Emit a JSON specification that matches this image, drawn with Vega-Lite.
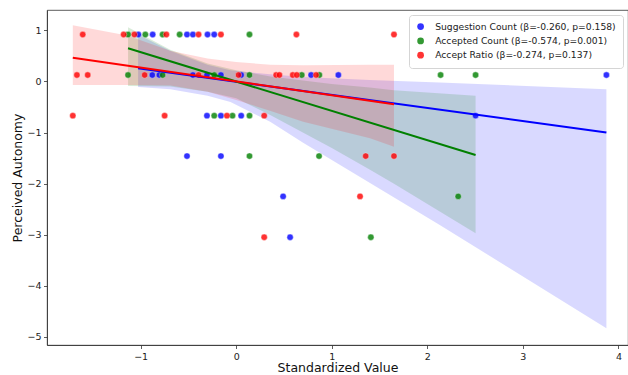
{
  "$schema": "https://vega.github.io/schema/vega-lite/v6.json",
  "width": 581,
  "height": 335,
  "autosize": "none",
  "padding": {"left": 47, "top": 10, "right": 0, "bottom": 30},
  "background": "white",
  "config": {
    "font": "DejaVu Sans",
    "view": {"stroke": "#333", "strokeWidth": 0.8},
    "axis": {"grid": false, "domainColor": "#333", "tickColor": "#333", "labelColor": "#222", "titleColor": "#111", "labelFontSize": 9.5, "titleFontSize": 12.5, "titleFontWeight": "normal", "tickSize": 3.5, "labelPadding": 2.5, "domainWidth": 0.8, "tickWidth": 0.8, "format": "d"},
    "legend": {"title": null, "orient": "top-right", "offset": 5, "labelFontSize": 9.2, "labelColor": "#222", "symbolSize": 45, "symbolType": "circle", "symbolOpacity": 0.8, "symbolStrokeWidth": 0, "labelOffset": 10, "rowPadding": 4.3, "padding": 7, "fillColor": "white", "strokeColor": "#d5d5d5", "cornerRadius": 3, "labelLimit": 400}
  },
  "datasets": {
    "pts": [
      {"s": "Suggestion Count (β=-0.260, p=0.158)", "x": -1.024, "y": 0.92},
      {"s": "Suggestion Count (β=-0.260, p=0.158)", "x": -0.874, "y": 0.92},
      {"s": "Suggestion Count (β=-0.260, p=0.158)", "x": -0.515, "y": 0.92},
      {"s": "Suggestion Count (β=-0.260, p=0.158)", "x": -0.453, "y": 0.92},
      {"s": "Suggestion Count (β=-0.260, p=0.158)", "x": -0.3, "y": 0.92},
      {"s": "Suggestion Count (β=-0.260, p=0.158)", "x": -0.23, "y": 0.92},
      {"s": "Suggestion Count (β=-0.260, p=0.158)", "x": -0.878, "y": 0.127},
      {"s": "Suggestion Count (β=-0.260, p=0.158)", "x": -0.805, "y": 0.127},
      {"s": "Suggestion Count (β=-0.260, p=0.158)", "x": -0.453, "y": 0.127},
      {"s": "Suggestion Count (β=-0.260, p=0.158)", "x": -0.306, "y": 0.127},
      {"s": "Suggestion Count (β=-0.260, p=0.158)", "x": -0.16, "y": 0.127},
      {"s": "Suggestion Count (β=-0.260, p=0.158)", "x": 0.052, "y": 0.127},
      {"s": "Suggestion Count (β=-0.260, p=0.158)", "x": 0.784, "y": 0.127},
      {"s": "Suggestion Count (β=-0.260, p=0.158)", "x": 1.069, "y": 0.127},
      {"s": "Suggestion Count (β=-0.260, p=0.158)", "x": 3.874, "y": 0.127},
      {"s": "Suggestion Count (β=-0.260, p=0.158)", "x": -0.306, "y": -0.67},
      {"s": "Suggestion Count (β=-0.260, p=0.158)", "x": -0.16, "y": -0.67},
      {"s": "Suggestion Count (β=-0.260, p=0.158)", "x": 0.052, "y": -0.67},
      {"s": "Suggestion Count (β=-0.260, p=0.158)", "x": 2.505, "y": -0.67},
      {"s": "Suggestion Count (β=-0.260, p=0.158)", "x": -0.515, "y": -1.46},
      {"s": "Suggestion Count (β=-0.260, p=0.158)", "x": -0.16, "y": -1.46},
      {"s": "Suggestion Count (β=-0.260, p=0.158)", "x": 0.491, "y": -2.25},
      {"s": "Suggestion Count (β=-0.260, p=0.158)", "x": 0.564, "y": -3.05},
      {"s": "Accepted Count (β=-0.574, p=0.001)", "x": -1.132, "y": 0.92},
      {"s": "Accepted Count (β=-0.574, p=0.001)", "x": -0.951, "y": 0.92},
      {"s": "Accepted Count (β=-0.574, p=0.001)", "x": -0.77, "y": 0.92},
      {"s": "Accepted Count (β=-0.574, p=0.001)", "x": -0.592, "y": 0.92},
      {"s": "Accepted Count (β=-0.574, p=0.001)", "x": 0.139, "y": 0.92},
      {"s": "Accepted Count (β=-0.574, p=0.001)", "x": -1.132, "y": 0.127},
      {"s": "Accepted Count (β=-0.574, p=0.001)", "x": -0.77, "y": 0.127},
      {"s": "Accepted Count (β=-0.574, p=0.001)", "x": -0.23, "y": 0.127},
      {"s": "Accepted Count (β=-0.574, p=0.001)", "x": 0.139, "y": 0.127},
      {"s": "Accepted Count (β=-0.574, p=0.001)", "x": 0.686, "y": 0.127},
      {"s": "Accepted Count (β=-0.574, p=0.001)", "x": 0.87, "y": 0.127},
      {"s": "Accepted Count (β=-0.574, p=0.001)", "x": 2.139, "y": 0.127},
      {"s": "Accepted Count (β=-0.574, p=0.001)", "x": 2.505, "y": 0.127},
      {"s": "Accepted Count (β=-0.574, p=0.001)", "x": -0.23, "y": -0.67},
      {"s": "Accepted Count (β=-0.574, p=0.001)", "x": -0.039, "y": -0.67},
      {"s": "Accepted Count (β=-0.574, p=0.001)", "x": 0.139, "y": -0.67},
      {"s": "Accepted Count (β=-0.574, p=0.001)", "x": 0.139, "y": -1.46},
      {"s": "Accepted Count (β=-0.574, p=0.001)", "x": 0.867, "y": -1.46},
      {"s": "Accepted Count (β=-0.574, p=0.001)", "x": 2.323, "y": -2.25},
      {"s": "Accepted Count (β=-0.574, p=0.001)", "x": 1.409, "y": -3.05},
      {"s": "Accept Ratio (β=-0.274, p=0.137)", "x": -1.606, "y": 0.92},
      {"s": "Accept Ratio (β=-0.274, p=0.137)", "x": -1.178, "y": 0.92},
      {"s": "Accept Ratio (β=-0.274, p=0.137)", "x": -1.066, "y": 0.92},
      {"s": "Accept Ratio (β=-0.274, p=0.137)", "x": -0.731, "y": 0.92},
      {"s": "Accept Ratio (β=-0.274, p=0.137)", "x": -0.394, "y": 0.92},
      {"s": "Accept Ratio (β=-0.274, p=0.137)", "x": -0.16, "y": 0.92},
      {"s": "Accept Ratio (β=-0.274, p=0.137)", "x": 0.63, "y": 0.92},
      {"s": "Accept Ratio (β=-0.274, p=0.137)", "x": 1.651, "y": 0.92},
      {"s": "Accept Ratio (β=-0.274, p=0.137)", "x": -1.667, "y": 0.127},
      {"s": "Accept Ratio (β=-0.274, p=0.137)", "x": -1.554, "y": 0.127},
      {"s": "Accept Ratio (β=-0.274, p=0.137)", "x": -0.958, "y": 0.127},
      {"s": "Accept Ratio (β=-0.274, p=0.137)", "x": -0.394, "y": 0.127},
      {"s": "Accept Ratio (β=-0.274, p=0.137)", "x": 0.024, "y": 0.127},
      {"s": "Accept Ratio (β=-0.274, p=0.137)", "x": 0.418, "y": 0.127},
      {"s": "Accept Ratio (β=-0.274, p=0.137)", "x": 0.452, "y": 0.127},
      {"s": "Accept Ratio (β=-0.274, p=0.137)", "x": 0.592, "y": 0.127},
      {"s": "Accept Ratio (β=-0.274, p=0.137)", "x": 0.634, "y": 0.127},
      {"s": "Accept Ratio (β=-0.274, p=0.137)", "x": 0.836, "y": 0.127},
      {"s": "Accept Ratio (β=-0.274, p=0.137)", "x": -1.71, "y": -0.67},
      {"s": "Accept Ratio (β=-0.274, p=0.137)", "x": -0.749, "y": -0.67},
      {"s": "Accept Ratio (β=-0.274, p=0.137)", "x": -0.097, "y": -0.67},
      {"s": "Accept Ratio (β=-0.274, p=0.137)", "x": 0.293, "y": -0.67},
      {"s": "Accept Ratio (β=-0.274, p=0.137)", "x": 1.355, "y": -1.46},
      {"s": "Accept Ratio (β=-0.274, p=0.137)", "x": 1.651, "y": -1.46},
      {"s": "Accept Ratio (β=-0.274, p=0.137)", "x": 1.296, "y": -2.25},
      {"s": "Accept Ratio (β=-0.274, p=0.137)", "x": 0.293, "y": -3.05}
    ],
    "fit": [
      {"s": "Suggestion Count (β=-0.260, p=0.158)", "k": 1, "x": -1.027, "y": 0.258},
      {"s": "Suggestion Count (β=-0.260, p=0.158)", "k": 1, "x": 3.874, "y": -1.0},
      {"s": "Accepted Count (β=-0.574, p=0.001)", "k": 2, "x": -1.132, "y": 0.65},
      {"s": "Accepted Count (β=-0.574, p=0.001)", "k": 2, "x": 2.505, "y": -1.44},
      {"s": "Accept Ratio (β=-0.274, p=0.137)", "k": 3, "x": -1.71, "y": 0.466},
      {"s": "Accept Ratio (β=-0.274, p=0.137)", "k": 3, "x": 1.651, "y": -0.446}
    ],
    "band": [
      {"s": "Suggestion Count (β=-0.260, p=0.158)", "x": -1.027, "lo": -0.11, "hi": 0.92},
      {"s": "Suggestion Count (β=-0.260, p=0.158)", "x": -0.69, "lo": -0.15, "hi": 0.6},
      {"s": "Suggestion Count (β=-0.260, p=0.158)", "x": -0.3, "lo": -0.28, "hi": 0.33},
      {"s": "Suggestion Count (β=-0.260, p=0.158)", "x": -0.06, "lo": -0.4, "hi": 0.22},
      {"s": "Suggestion Count (β=-0.260, p=0.158)", "x": 0.355, "lo": -0.79, "hi": 0.14},
      {"s": "Suggestion Count (β=-0.260, p=0.158)", "x": 0.7, "lo": -1.2, "hi": 0.09},
      {"s": "Suggestion Count (β=-0.260, p=0.158)", "x": 1.4, "lo": -1.99, "hi": 0.03},
      {"s": "Suggestion Count (β=-0.260, p=0.158)", "x": 2.13, "lo": -2.81, "hi": -0.02},
      {"s": "Suggestion Count (β=-0.260, p=0.158)", "x": 3.874, "lo": -4.83, "hi": -0.15},
      {"s": "Accepted Count (β=-0.574, p=0.001)", "x": -1.132, "lo": -0.09, "hi": 1.06},
      {"s": "Accepted Count (β=-0.574, p=0.001)", "x": -0.69, "lo": -0.1, "hi": 0.62},
      {"s": "Accepted Count (β=-0.574, p=0.001)", "x": -0.3, "lo": -0.2, "hi": 0.35},
      {"s": "Accepted Count (β=-0.574, p=0.001)", "x": 0.0, "lo": -0.33, "hi": 0.22},
      {"s": "Accepted Count (β=-0.574, p=0.001)", "x": 0.36, "lo": -0.66, "hi": 0.1},
      {"s": "Accepted Count (β=-0.574, p=0.001)", "x": 1.0, "lo": -1.3, "hi": -0.05},
      {"s": "Accepted Count (β=-0.574, p=0.001)", "x": 1.4, "lo": -1.73, "hi": -0.12},
      {"s": "Accepted Count (β=-0.574, p=0.001)", "x": 1.651, "lo": -2.0, "hi": -0.17},
      {"s": "Accepted Count (β=-0.574, p=0.001)", "x": 2.505, "lo": -2.97, "hi": -0.28},
      {"s": "Accept Ratio (β=-0.274, p=0.137)", "x": -1.71, "lo": -0.07, "hi": 1.1},
      {"s": "Accept Ratio (β=-0.274, p=0.137)", "x": -1.14, "lo": -0.07, "hi": 0.9},
      {"s": "Accept Ratio (β=-0.274, p=0.137)", "x": -0.69, "lo": -0.08, "hi": 0.6},
      {"s": "Accept Ratio (β=-0.274, p=0.137)", "x": -0.3, "lo": -0.2, "hi": 0.45},
      {"s": "Accept Ratio (β=-0.274, p=0.137)", "x": 0.0, "lo": -0.36, "hi": 0.38},
      {"s": "Accept Ratio (β=-0.274, p=0.137)", "x": 0.36, "lo": -0.58, "hi": 0.33},
      {"s": "Accept Ratio (β=-0.274, p=0.137)", "x": 0.7, "lo": -0.79, "hi": 0.32},
      {"s": "Accept Ratio (β=-0.274, p=0.137)", "x": 1.4, "lo": -1.11, "hi": 0.33},
      {"s": "Accept Ratio (β=-0.274, p=0.137)", "x": 1.651, "lo": -1.28, "hi": 0.33}
    ]
  },
  "layer": [
    {
      "data": {"name": "band"},
      "mark": {"type": "area", "opacity": 0.15},
      "encoding": {
        "x": {"field": "x", "type": "quantitative", "scale": {"domain": [-1.98, 4.1], "nice": false, "zero": false}, "axis": {"values": [-1, 0, 1, 2, 3, 4], "title": "Standardized Value", "titlePadding": 1}},
        "y": {"field": "lo", "type": "quantitative", "scale": {"domain": [-5.16, 1.4], "nice": false, "zero": false}, "axis": {"values": [-5, -4, -3, -2, -1, 0, 1], "title": "Perceived Autonomy", "titlePadding": 2}},
        "y2": {"field": "hi"},
        "color": {"field": "s", "type": "nominal", "scale": {"domain": ["Suggestion Count (β=-0.260, p=0.158)", "Accepted Count (β=-0.574, p=0.001)", "Accept Ratio (β=-0.274, p=0.137)"], "range": ["#0000ff", "#008000", "#ff0000"]}}
      }
    },
    {
      "data": {"name": "pts"},
      "mark": {"type": "point", "filled": true, "shape": "circle", "size": 40, "opacity": 0.8, "stroke": "white", "strokeWidth": 0.4},
      "encoding": {
        "x": {"field": "x", "type": "quantitative"},
        "y": {"field": "y", "type": "quantitative"},
        "color": {"field": "s", "type": "nominal"}
      }
    },
    {
      "data": {"name": "fit"},
      "mark": {"type": "line", "strokeWidth": 2},
      "encoding": {
        "x": {"field": "x", "type": "quantitative"},
        "y": {"field": "y", "type": "quantitative"},
        "color": {"field": "s", "type": "nominal"},
        "order": {"field": "k"}
      }
    }
  ]
}
